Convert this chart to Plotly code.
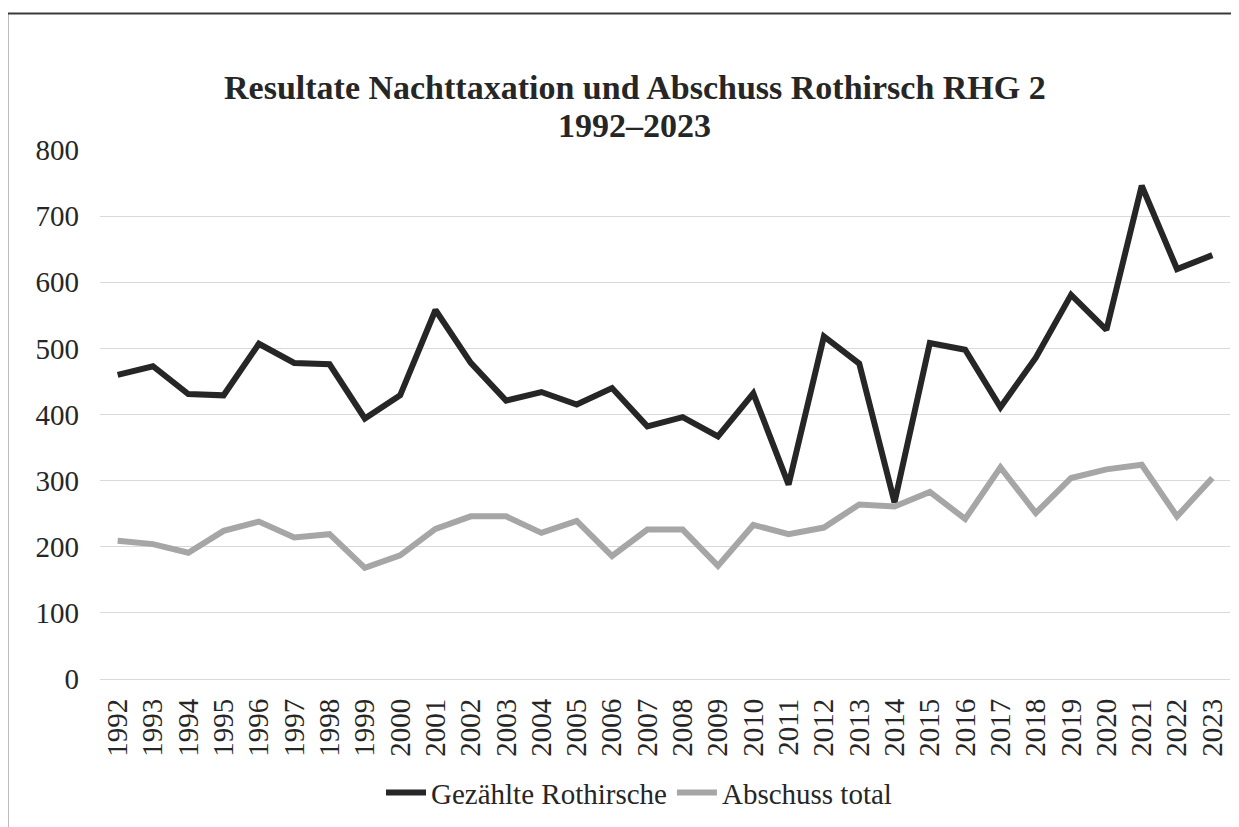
import plotly.graph_objects as go

years = [str(y) for y in range(1992, 2024)]
gezaehlte = [460, 473, 431, 429, 507, 478, 476, 394, 429, 558, 478, 421,
             434, 415, 440, 382, 396, 367, 432, 294, 518, 477, 267, 508,
             498, 411, 486, 581, 528, 746, 620, 641]
abschuss = [209, 204, 191, 224, 238, 214, 219, 168, 187, 227, 246, 246,
            221, 239, 186, 226, 226, 171, 233, 219, 229, 264, 261, 283,
            242, 320, 251, 304, 317, 324, 246, 304]
y_ticks = [0, 100, 200, 300, 400, 500, 600, 700, 800]

title_line1 = "Resultate Nachttaxation und Abschuss Rothirsch RHG 2"
title_line2 = "1992\u20132023"

FONT = "Liberation Serif, Times New Roman, serif"

fig = go.Figure()
fig.add_trace(go.Scatter(x=years, y=gezaehlte, mode="lines",
                         name="Gezählte Rothirsche",
                         line=dict(color="#262626", width=6)))
fig.add_trace(go.Scatter(x=years, y=abschuss, mode="lines",
                         name="Abschuss total",
                         line=dict(color="#a6a6a6", width=6)))

fig.update_layout(
    width=1231, height=819,
    margin=dict(l=92, r=9, t=142, b=142),
    paper_bgcolor="white", plot_bgcolor="white",
    font=dict(family=FONT, color="#262626", size=28),
    showlegend=True,
    legend=dict(orientation="h", x=0.477, xanchor="center", y=-0.215,
                yanchor="middle", font=dict(size=29, family=FONT, color="#262626"),
                itemwidth=40, tracegroupgap=0),
    xaxis=dict(type="category", tickangle=-90, showgrid=False, showline=False,
               zeroline=False, ticks="", tickmode="array", tickvals=years,
               ticktext=years, tickfont=dict(size=29, family=FONT),
               ticklabelstandoff=13, range=[-0.5, 31.5]),
    yaxis=dict(range=[0, 800], tickvals=y_ticks, showgrid=True,
               gridcolor="#d9d9d9", gridwidth=1, zeroline=True,
               zerolinecolor="#d9d9d9", zerolinewidth=1, showline=False,
               ticks="", tickfont=dict(size=29, family=FONT),
               ticklabelstandoff=20),
    annotations=[
        dict(text="<b>" + title_line1 + "</b>", xref="paper", yref="paper",
             x=0.4733, y=1.1178, xanchor="center", yanchor="middle",
             showarrow=False, font=dict(size=34, family=FONT, color="#262626")),
        dict(text="<b>" + title_line2 + "</b>", xref="paper", yref="paper",
             x=0.4733, y=1.0467, xanchor="center", yanchor="middle",
             showarrow=False, font=dict(size=34, family=FONT, color="#262626")),
    ],
    shapes=[
        dict(type="rect", xref="paper", yref="paper",
             x0=-0.082, x1=1.0143, y0=-0.32, y1=1.258,
             line=dict(color="#3a3a3a", width=2), layer="above"),
    ],
)

fig.write_html("out.html")
